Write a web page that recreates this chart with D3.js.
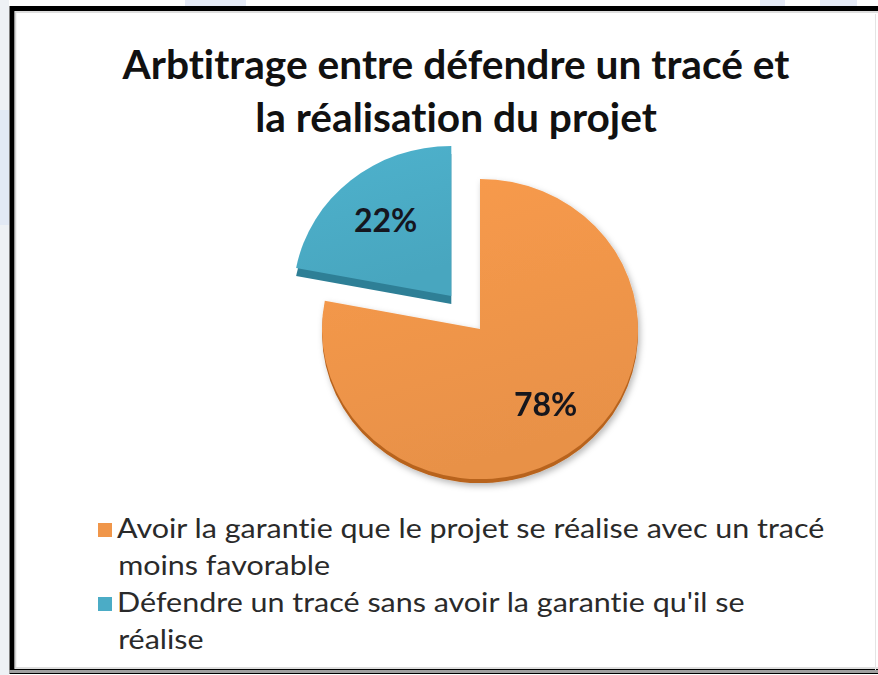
<!DOCTYPE html>
<html>
<head>
<meta charset="utf-8">
<script src="https://cdn.jsdelivr.net/npm/d3@7/dist/d3.min.js"></script>
<style>
  body { margin: 0; background: #fff; }
  svg { display: block; }
  text { font-variant-ligatures: none; font-feature-settings: "liga" 0; }
</style>
</head>
<body>
<div id="chart"></div>
<script>
// data
const categories = [
  "Avoir la garantie que le projet se réalise avec un tracé moins favorable",
  "Défendre un tracé sans avoir la garantie qu'il se réalise"
];
const values = [78, 22];
const colors = ["#F0964A", "#4BACC6"];
const depthColors = ["#B8641F", "#2E7F96"];
const titleLines = ["Arbtitrage entre défendre un tracé et", "la réalisation du projet"];

const width = 878, height = 675;
const cx = 480, cy = 329, R = 158, tilt = 0.95;
const explodeIndex = 1, explodeDist = 45;
const depth = [4, 8];

const svg = d3.select('#chart')
  .append('svg')
  .attr('width', width)
  .attr('height', height);

const defs = svg.append('defs');
const shadow = defs.append('filter').attr('id', 'shadow')
  .attr('x', '-20%').attr('y', '-20%').attr('width', '140%').attr('height', '140%');
shadow.append('feDropShadow')
  .attr('dx', 2).attr('dy', 3).attr('stdDeviation', 3)
  .attr('flood-color', '#000').attr('flood-opacity', 0.28);

colors.forEach((c, i) => {
  const g = defs.append('linearGradient').attr('id', 'grad' + i)
    .attr('x1', 0).attr('y1', 0).attr('x2', 0.3).attr('y2', 1);
  g.append('stop').attr('offset', '0%').attr('stop-color', d3.color(c).brighter(0.1));
  g.append('stop').attr('offset', '100%').attr('stop-color', d3.color(c).darker(0.1));
});

// page background outside the frame
svg.append('rect').attr('width', width).attr('height', height).attr('fill', '#fff');
svg.append('rect').attr('x', 0).attr('y', 0).attr('width', 9).attr('height', height).attr('fill', '#eef1f5');
svg.append('rect').attr('x', 0).attr('y', 110).attr('width', 9).attr('height', 115).attr('fill', '#e2e9f5');
[[185, 61], [760, 25], [820, 37]].forEach(([x, w]) => {
  svg.append('rect').attr('x', x).attr('y', 0).attr('width', w).attr('height', 6).attr('fill', '#e6ebf7');
});

// frame
svg.append('rect')
  .attr('x', 12).attr('y', 8.5)
  .attr('width', 900).attr('height', 663)
  .attr('fill', '#fff')
  .attr('stroke', '#000')
  .attr('stroke-width', 5);
svg.append('rect')
  .attr('x', 15.5).attr('y', 12)
  .attr('width', 900).attr('height', 656)
  .attr('fill', 'none')
  .attr('stroke', '#d4d4d4')
  .attr('stroke-width', 1.5);
svg.append('line')
  .attr('x1', 9).attr('x2', width)
  .attr('y1', 671.5).attr('y2', 671.5)
  .attr('stroke', '#a0a0a0').attr('stroke-width', 3);
svg.append('line')
  .attr('x1', 875.5).attr('x2', 875.5)
  .attr('y1', 14).attr('y2', 670)
  .attr('stroke', '#e4e4e4').attr('stroke-width', 1);

// title
const title = svg.append('g').attr('class', 'title');
const titleText = title.selectAll('text')
  .data(titleLines)
  .enter()
  .append('text')
  .attr('x', 456)
  .attr('y', (d, i) => 79 + i * 53)
  .attr('text-anchor', 'middle')
  .attr('font-family', 'Lato, sans-serif')
  .attr('font-weight', 'bold')
  .attr('font-size', 36)
  .attr('fill', '#111')
  .text(d => d);
const tw = titleText.nodes()[0].getComputedTextLength();
titleText.attr('font-size', 36 * 667 / tw);

// pie
const pie = d3.pie().sort(null).value(d => d);
const arcs = pie(values);
const arc = d3.arc().innerRadius(0).outerRadius(R);
const total = d3.sum(values);

const slices = svg.append('g').attr('class', 'slices')
  .selectAll('g')
  .data(arcs)
  .enter()
  .append('g')
  .attr('transform', (d, i) => {
    const mid = (d.startAngle + d.endAngle) / 2;
    const off = i === explodeIndex ? explodeDist : 0;
    return `translate(${cx + Math.sin(mid) * off},${cy - Math.cos(mid) * off * tilt})`;
  })
  .attr('filter', (d, i) => i === 0 ? 'url(#shadow)' : null);

slices.append('path')
  .attr('transform', (d, i) => `translate(0,${depth[i]}) scale(1,${tilt})`)
  .attr('d', arc)
  .attr('fill', (d, i) => depthColors[i]);

slices.append('path')
  .attr('transform', `scale(1,${tilt})`)
  .attr('d', arc)
  .attr('fill', (d, i) => `url(#grad${i})`);

// percentage labels
const labelR = 103;
slices.append('text')
  .attr('x', d => Math.sin((d.startAngle + d.endAngle) / 2) * labelR)
  .attr('y', d => -Math.cos((d.startAngle + d.endAngle) / 2) * labelR * tilt)
  .attr('dy', '0.35em')
  .attr('text-anchor', 'middle')
  .attr('font-family', 'Lato, sans-serif')
  .attr('font-weight', 'bold')
  .attr('font-size', 32)
  .attr('fill', '#15161f')
  .text(d => d3.format('.0%')(d.data / total));

// legend
const legendX = 98, legendY = 538, lineH = 37, maxW = 715, stretch = 1.15;
const legend = svg.append('g').attr('class', 'legend');
let line = 0;
categories.forEach((cat, i) => {
  const y0 = legendY + line * lineH;
  legend.append('rect')
    .attr('x', legendX).attr('y', y0 - 15)
    .attr('width', 14).attr('height', 14)
    .attr('fill', colors[i]);
  const text = legend.append('g')
    .attr('transform', `translate(${legendX + 19},0) scale(${stretch},1)`)
    .append('text')
    .attr('font-family', 'Lato, sans-serif')
    .attr('font-size', 26.5)
    .attr('fill', '#2a2a2a');
  const words = cat.split(' ');
  let current = [];
  let tspan = text.append('tspan').attr('x', 0).attr('y', y0);
  words.forEach(w => {
    current.push(w);
    tspan.text(current.join(' '));
    if (tspan.node().getComputedTextLength() * stretch > maxW && current.length > 1) {
      current.pop();
      tspan.text(current.join(' '));
      current = [w];
      line++;
      tspan = text.append('tspan')
        .attr('x', 1)
        .attr('y', legendY + line * lineH)
        .text(w);
    }
  });
  line++;
});
</script>
</body>
</html>
